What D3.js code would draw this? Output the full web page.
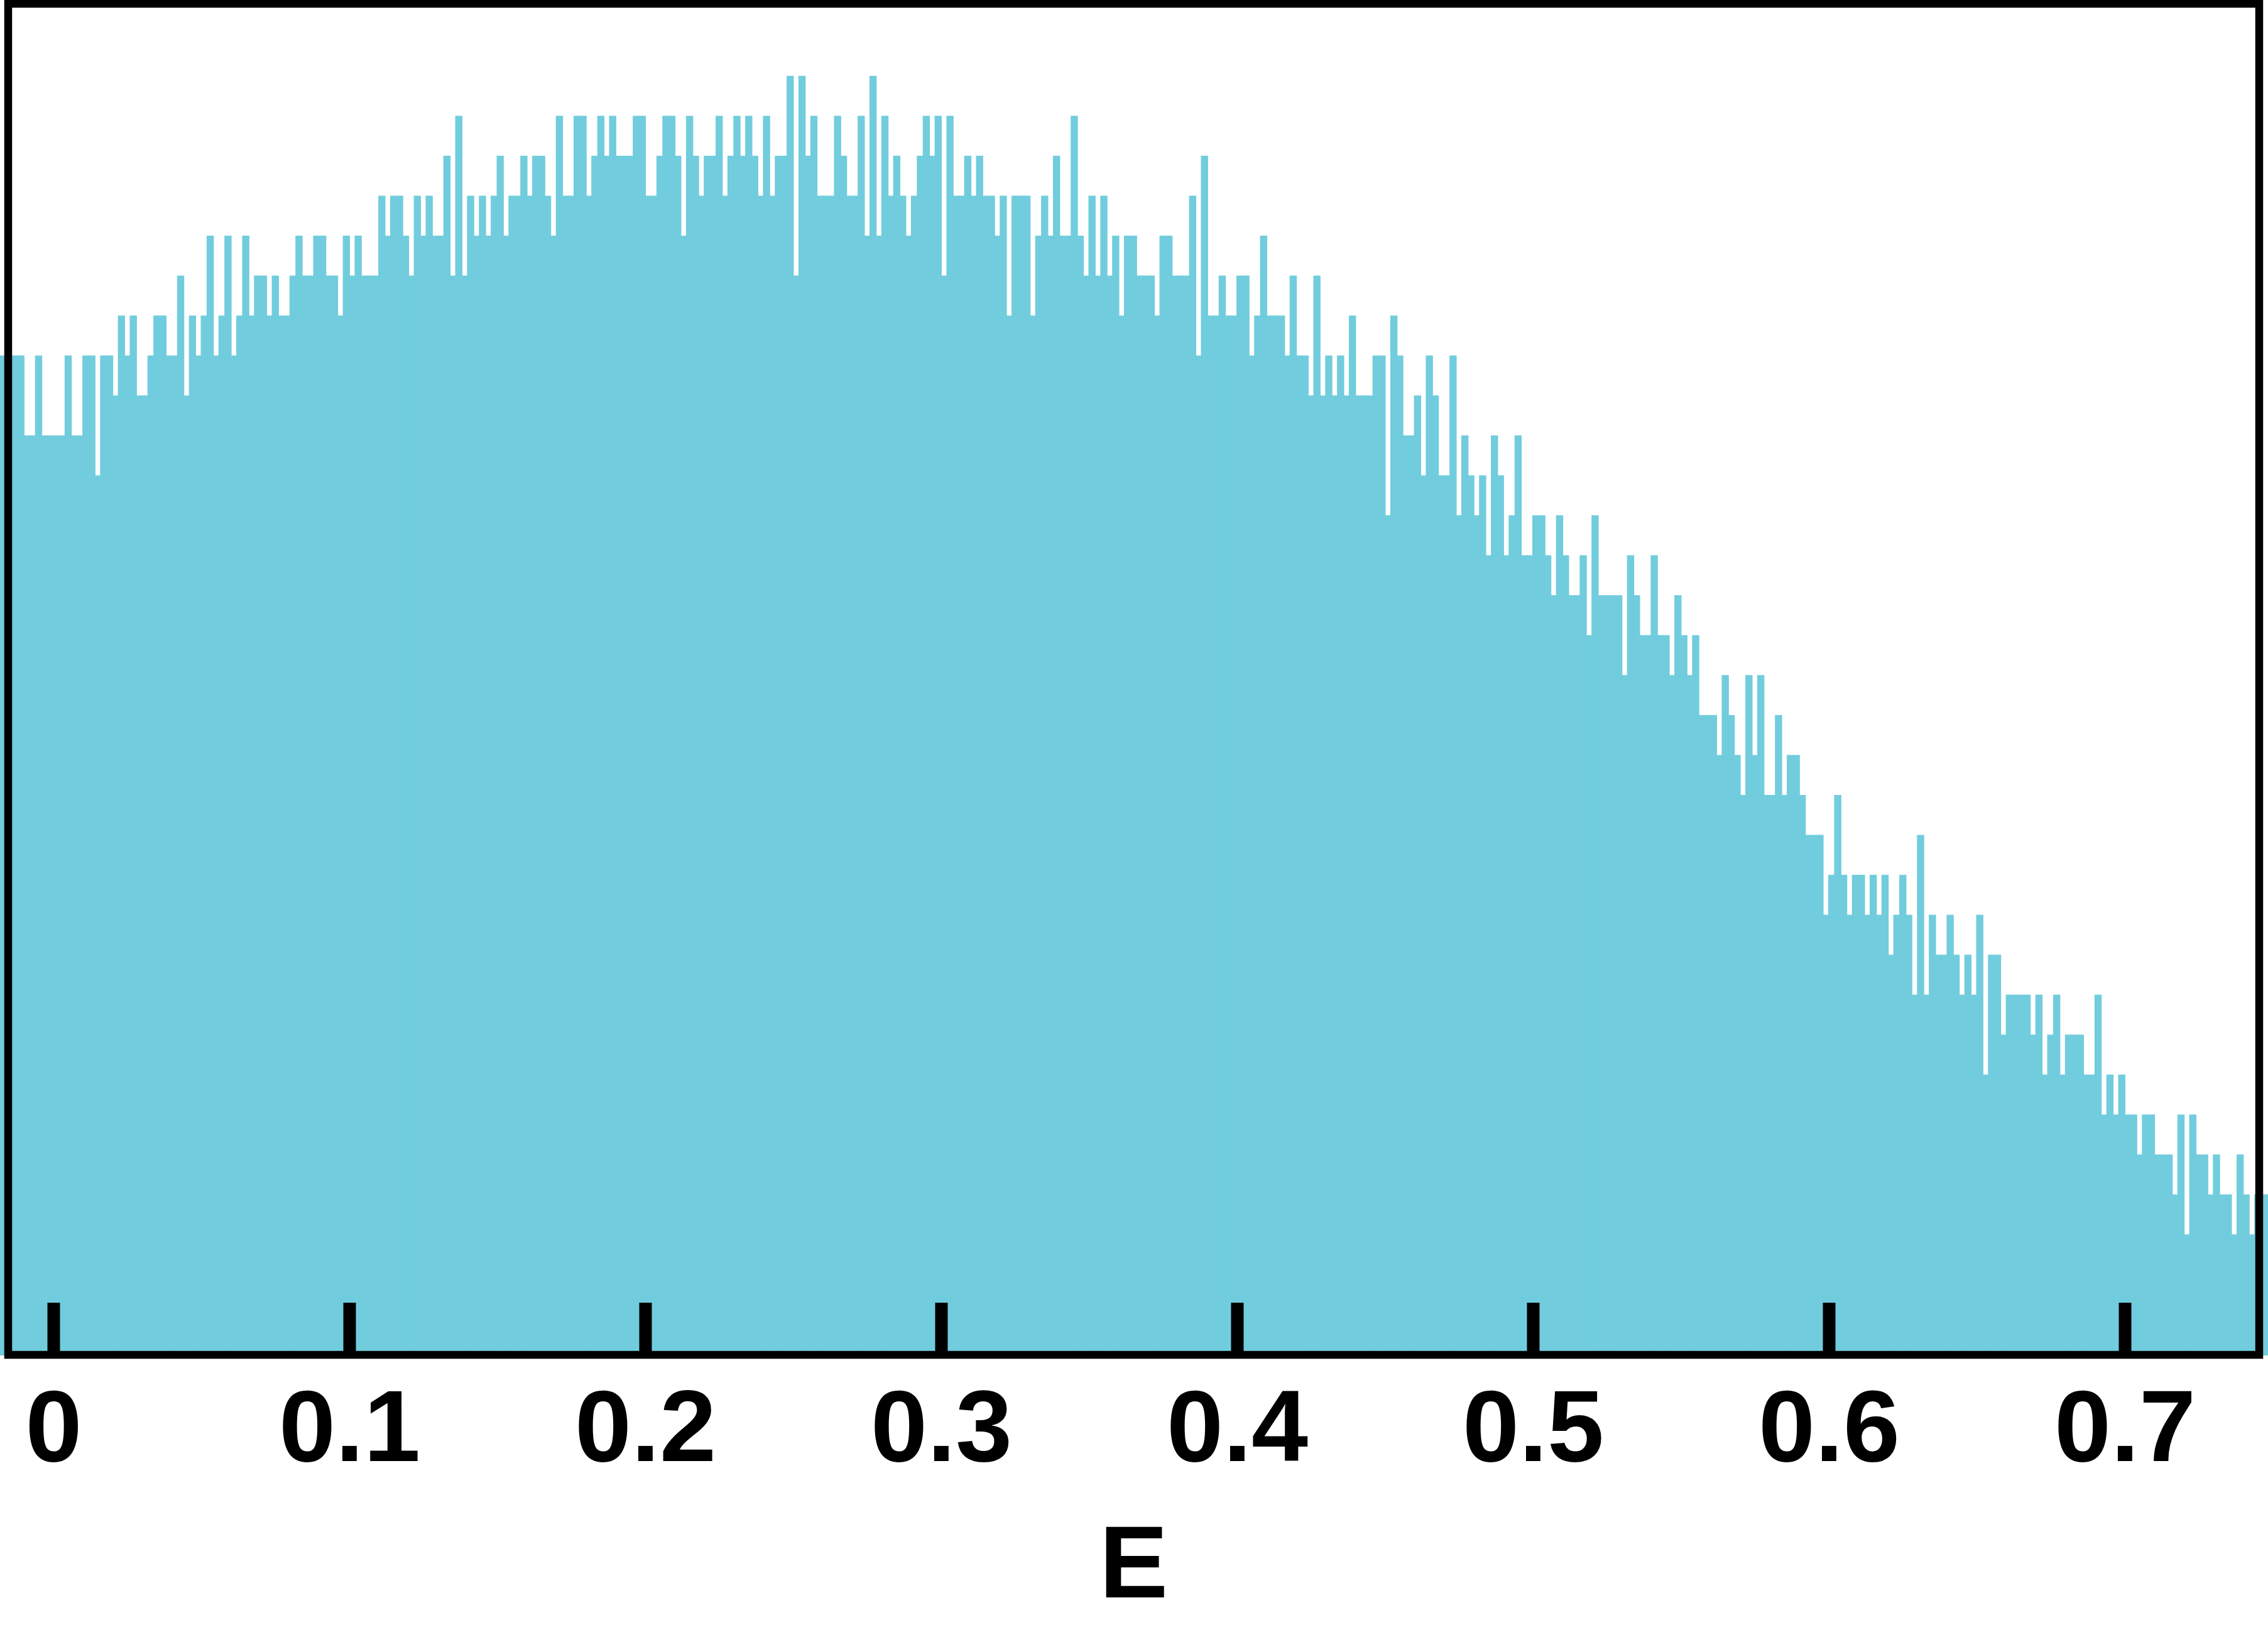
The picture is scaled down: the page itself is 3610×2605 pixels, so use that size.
<!DOCTYPE html>
<html>
<head>
<meta charset="utf-8">
<script src="https://cdn.jsdelivr.net/npm/d3@7/dist/d3.min.js"></script>
<style>
    html, body { margin: 0; padding: 0; background: #ffffff; }
    svg { display: block; }
</style>
</head>
<body>
<div id="chart"></div>
<script>
"use strict";

// histogram of E, bins of width 0.002 starting at -0.018
let binStart = -0.018;
let binWidth = 0.002;

let binCounts = [
    25, 25, 25, 25, 23, 23, 25, 23, 23, 23, 23, 25, 23, 23, 25, 25, 22, 25, 25, 24,
    26, 25, 26, 24, 24, 25, 26, 26, 25, 25, 27, 24, 26, 25, 26, 28, 25, 26, 28, 25,
    26, 28, 26, 27, 27, 26, 27, 26, 26, 27, 28, 27, 27, 28, 28, 27, 27, 26, 28, 27,
    28, 27, 27, 27, 29, 28, 29, 29, 28, 27, 29, 28, 29, 28, 28, 30, 27, 31, 27, 29,
    28, 29, 28, 29, 30, 28, 29, 29, 30, 29, 30, 30, 29, 28, 31, 29, 29, 31, 31, 29,
    30, 31, 30, 31, 30, 30, 30, 31, 31, 29, 29, 30, 31, 31, 30, 28, 31, 30, 29, 30,
    30, 31, 29, 30, 31, 30, 31, 30, 29, 31, 29, 30, 30, 32, 27, 32, 30, 31, 29, 29,
    29, 31, 30, 29, 29, 31, 28, 32, 28, 31, 29, 30, 29, 28, 29, 30, 31, 30, 31, 27,
    31, 29, 29, 30, 29, 30, 29, 29, 28, 29, 26, 29, 29, 29, 26, 28, 29, 28, 30, 28,
    28, 31, 28, 27, 29, 27, 29, 27, 28, 26, 28, 28, 27, 27, 27, 26, 28, 28, 27, 27,
    27, 29, 25, 30, 26, 26, 27, 26, 26, 27, 27, 25, 26, 28, 26, 26, 26, 25, 27, 25,
    25, 24, 27, 24, 25, 24, 25, 24, 26, 24, 24, 24, 25, 25, 21, 26, 25, 23, 23, 24,
    22, 25, 24, 22, 22, 25, 21, 23, 22, 21, 22, 20, 23, 22, 20, 21, 23, 20, 20, 21,
    21, 20, 19, 21, 20, 19, 19, 20, 18, 21, 19, 19, 19, 19, 17, 20, 19, 18, 18, 20,
    18, 18, 17, 19, 18, 17, 18, 16, 16, 16, 15, 17, 16, 15, 14, 17, 15, 17, 14, 14,
    16, 14, 15, 15, 14, 13, 13, 13, 11, 12, 14, 12, 11, 12, 12, 11, 12, 11, 12, 10,
    11, 12, 11, 9, 13, 9, 11, 10, 10, 11, 10, 9, 10, 9, 11, 7, 10, 10, 8, 9,
    9, 9, 9, 8, 9, 7, 8, 9, 7, 8, 8, 8, 7, 7, 9, 6, 7, 6, 7, 6,
    6, 5, 6, 6, 5, 5, 5, 4, 6, 3, 6, 5, 5, 4, 5, 4, 4, 3, 5, 4,
    3, 4, 4, 4
];

let tickValues = [0, 0.1, 0.2, 0.3, 0.4, 0.5, 0.6, 0.7];
let tickLabels = ["0", "0.1", "0.2", "0.3", "0.4", "0.5", "0.6", "0.7"];
let xLabel = "E";
let yMax = 33.82;

let width = 3610;
let height = 2605;

let frame = { left: 13, top: 6, right: 3596, bottom: 2156 };
let barColor = "#71cddd";
let fontFamily = "'Liberation Sans', Arial, Helvetica, sans-serif";

let bins = binCounts.map(function(count, i) {
    return {
        x0: binStart + i * binWidth,
        x1: binStart + (i + 1) * binWidth,
        count: count
    };
});

let svg = d3.select("#chart").append("svg")
    .attr("width", width)
    .attr("height", height);

let x = d3.scaleLinear()
    .domain([0, 0.7])
    .range([85, 3382]);

let y = d3.scaleLinear()
    .domain([0, yMax])
    .range([frame.bottom, frame.top]);

// bars are not clipped to the frame, as in the original
svg.append("g")
    .attr("class", "bars")
    .selectAll("rect")
    .data(bins)
    .enter().append("rect")
    .attr("x", d => x(d.x0))
    .attr("y", d => y(d.count))
    .attr("width", d => x(d.x1) - x(d.x0))
    .attr("height", d => y(0) - y(d.count))
    .style("fill", barColor)
    .style("stroke", barColor)
    .style("stroke-width", 2);

// box round the plot
svg.append("rect")
    .attr("x", frame.left)
    .attr("y", frame.top)
    .attr("width", frame.right - frame.left)
    .attr("height", frame.bottom - frame.top)
    .style("fill", "none")
    .style("stroke", "#000000")
    .style("stroke-width", 12.5);

let xAxis = d3.axisBottom(x)
    .tickValues(tickValues)
    .tickFormat((d, i) => tickLabels[i])
    .tickSize(-83)
    .tickPadding(54);

let axisG = svg.append("g")
    .attr("class", "x-axis")
    .attr("transform", "translate(0," + frame.bottom + ")")
    .call(xAxis);

axisG.select(".domain").remove();

axisG.selectAll(".tick line")
    .style("stroke", "#000000")
    .style("stroke-width", 20);

axisG.selectAll(".tick text")
    .style("font-family", fontFamily)
    .style("font-weight", "bold")
    .style("font-size", "162px")
    .style("fill", "#000000");

svg.append("text")
    .attr("x", (frame.left + frame.right) / 2)
    .attr("y", 2542)
    .attr("text-anchor", "middle")
    .style("font-family", fontFamily)
    .style("font-weight", "bold")
    .style("font-size", "164px")
    .style("fill", "#000000")
    .text(xLabel);
</script>
</body>
</html>
